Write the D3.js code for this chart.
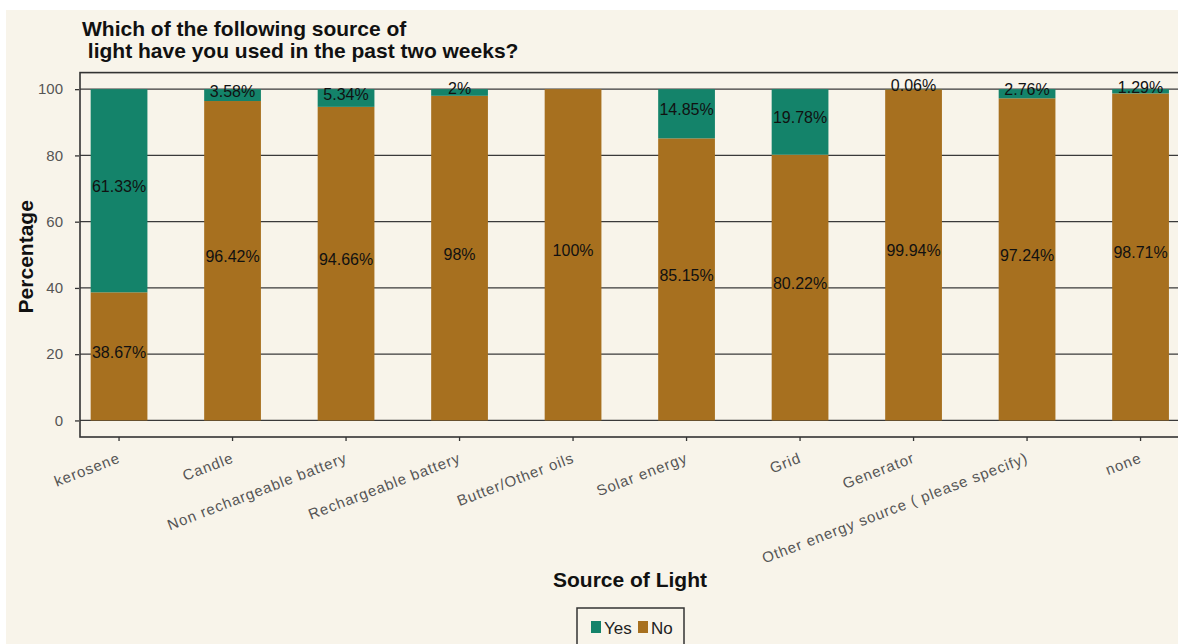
<!DOCTYPE html>
<html>
<head>
<meta charset="utf-8">
<script src="https://cdn.jsdelivr.net/npm/d3@7"></script>
<style>
  html, body { margin: 0; padding: 0; background: #ffffff; }
  svg { display: block; font-family: "Liberation Sans", Arial, sans-serif; }
</style>
</head>
<body>
<svg id="chart" width="1178" height="644"></svg>
<script>
// Light sources used in the past two weeks (share of respondents, %)
const categories = [
  "kerosene", "Candle", "Non rechargeable battery", "Rechargeable battery",
  "Butter/Other oils", "Solar energy", "Grid", "Generator",
  "Other energy source ( please specify)", "none"
];
const yesValues = [61.33, 3.58, 5.34, 2, 0, 14.85, 19.78, 0.06, 2.76, 1.29];
const noValues  = [38.67, 96.42, 94.66, 98, 100, 85.15, 80.22, 99.94, 97.24, 98.71];
const yTicks = [0, 20, 40, 60, 80, 100];
const seriesNames = ["Yes", "No"];

const colors = { Yes: "#14836a", No: "#a7701f" };
const bg = "#f8f4ea";

const svg = d3.select("#chart");
const W = 1178, H = 644;

// background panel (small white margin on top/left)
svg.append("rect").attr("x", 6).attr("y", 10).attr("width", W - 6).attr("height", H - 10).attr("fill", bg);

const panel = { left: 80, right: 1179.6, top: 72.6, bottom: 437 };

const x = d3.scaleBand()
  .domain(categories)
  .range([panel.left, panel.right])
  .paddingInner(0.5)
  .paddingOuter(0.094);

const y = d3.scaleLinear()
  .domain([-5, 105])
  .range([panel.bottom, panel.top]);

// stacked rows: No at the bottom, Yes on top
const rows = categories.map((c, i) => ({ cat: c, No: noValues[i], Yes: yesValues[i] }));
const stack = d3.stack().keys(["No", "Yes"]);
const layers = stack(rows);

// horizontal grid lines
const grid = svg.append("g");
grid.selectAll("line").data(yTicks).join("line")
  .attr("x1", panel.left).attr("x2", panel.right)
  .attr("y1", d => y(d)).attr("y2", d => y(d))
  .attr("stroke", "#3a3a3a").attr("stroke-width", 1.3);

// bars
const barG = svg.append("g");
layers.forEach(layer => {
  barG.append("g").selectAll("rect").data(layer).join("rect")
    .attr("x", d => x(d.data.cat))
    .attr("width", x.bandwidth())
    .attr("y", d => y(d[1]))
    .attr("height", d => y(d[0]) - y(d[1]))
    .attr("fill", colors[layer.key]);
});

// value labels at the middle of each segment
const labG = svg.append("g")
  .attr("font-size", 16)
  .attr("fill", "#111")
  .attr("text-anchor", "middle");
layers.forEach(layer => {
  labG.append("g").selectAll("text")
    .data(layer.filter(d => d[1] - d[0] > 0))
    .join("text")
    .attr("x", d => x(d.data.cat) + x.bandwidth() / 2)
    .attr("y", d => y((d[0] + d[1]) / 2) - 4)
    .attr("dominant-baseline", "central")
    .text(d => `${d.data[layer.key]}%`);
});

// panel border
svg.append("rect")
  .attr("x", panel.left).attr("y", panel.top)
  .attr("width", panel.right - panel.left).attr("height", panel.bottom - panel.top)
  .attr("fill", "none").attr("stroke", "#333").attr("stroke-width", 1.6);

// y axis
const yAxis = d3.axisLeft(y).tickValues(yTicks).tickSize(4).tickPadding(12);
const yg = svg.append("g").attr("transform", `translate(${panel.left - 1},0)`).call(yAxis);
yg.select(".domain").remove();
yg.selectAll(".tick line").attr("stroke", "#333").attr("stroke-width", 1.3);
yg.selectAll(".tick text")
  .attr("font-size", 15).attr("fill", "#555")
  .attr("font-family", "'Liberation Sans', Arial, sans-serif");

// x axis
const xAxis = d3.axisBottom(x).tickSize(4).tickPadding(0);
const xg = svg.append("g").attr("transform", `translate(0,${panel.bottom})`).call(xAxis);
xg.select(".domain").remove();
xg.selectAll(".tick line").attr("stroke", "#333").attr("stroke-width", 1.3);
xg.selectAll(".tick text")
  .attr("font-size", 15).attr("fill", "#555")
  .attr("font-family", "'Liberation Sans', Arial, sans-serif")
  .attr("letter-spacing", "0.9px")
  .attr("text-anchor", "end")
  .attr("dy", null).attr("y", null)
  .attr("transform", "translate(2,25) rotate(-21)");

// titles
svg.append("text").attr("x", 82).attr("y", 36)
  .attr("font-size", 21).attr("font-weight", "bold").attr("fill", "#111")
  .text("Which of the following source of");
svg.append("text").attr("x", 82).attr("y", 58)
  .attr("font-size", 21).attr("font-weight", "bold").attr("fill", "#111")
  .attr("xml:space", "preserve").style("white-space", "pre")
  .text(" light have you used in the past two weeks?");

svg.append("text")
  .attr("transform", `translate(33,${(y(0) + y(100)) / 2 + 2}) rotate(-90)`)
  .attr("text-anchor", "middle")
  .attr("font-size", 21).attr("font-weight", "bold").attr("fill", "#111")
  .text("Percentage");

svg.append("text")
  .attr("x", 630).attr("y", 587)
  .attr("text-anchor", "middle")
  .attr("font-size", 21).attr("font-weight", "bold").attr("fill", "#111")
  .text("Source of Light");

// legend
const leg = svg.append("g");
leg.append("rect").attr("x", 577).attr("y", 608).attr("width", 107).attr("height", 60)
  .attr("fill", "none").attr("stroke", "#333").attr("stroke-width", 1.5);
const legItems = [
  { name: seriesNames[0], kx: 591, tx: 604 },
  { name: seriesNames[1], kx: 638, tx: 651 }
];
legItems.forEach(it => {
  leg.append("rect").attr("x", it.kx).attr("y", 621).attr("width", 10).attr("height", 12)
    .attr("fill", colors[it.name]);
  leg.append("text").attr("x", it.tx).attr("y", 634)
    .attr("font-size", 17).attr("fill", "#222")
    .text(it.name);
});
</script>
</body>
</html>
